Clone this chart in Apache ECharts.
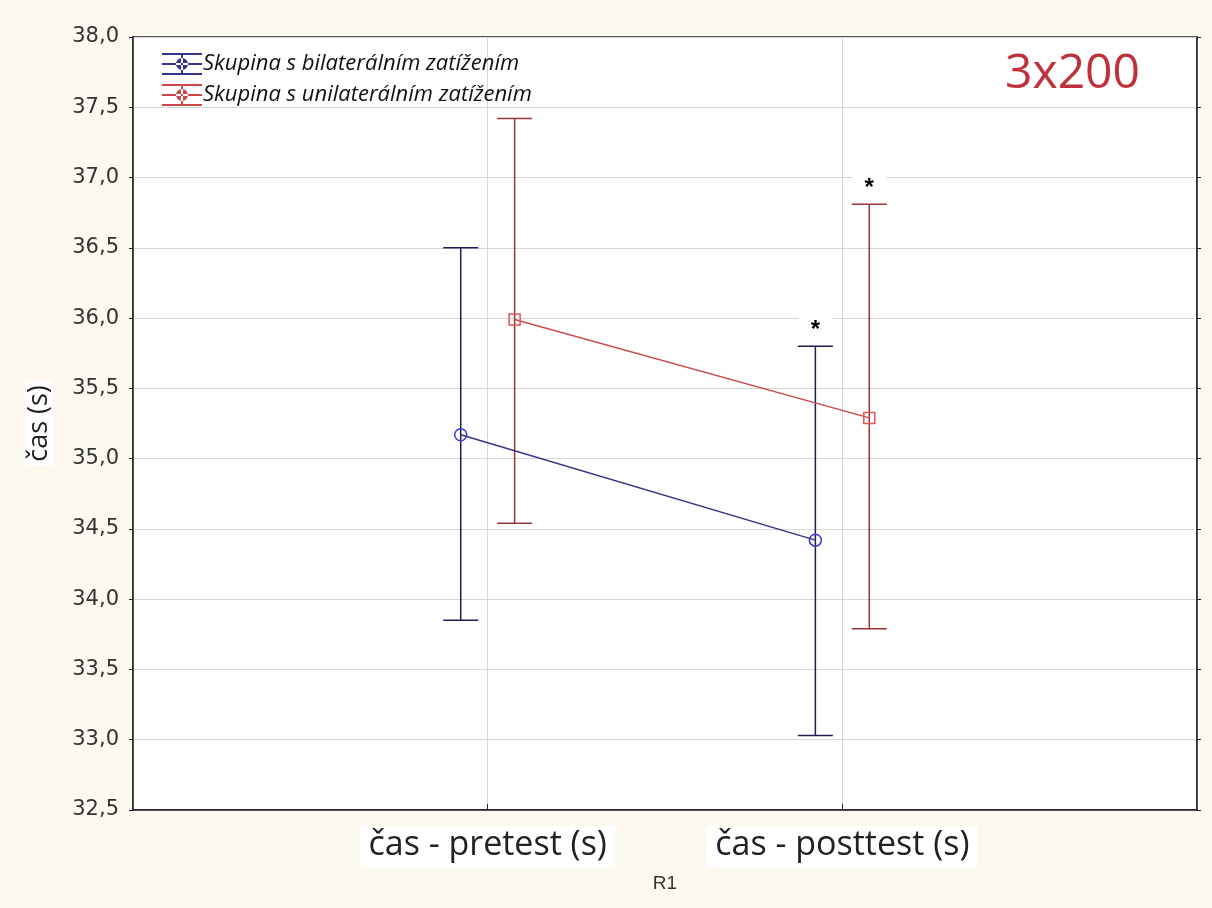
<!DOCTYPE html>
<html><head><meta charset="utf-8">
<script src="https://cdn.jsdelivr.net/npm/echarts@6/dist/echarts.min.js"></script>
<style>html,body{margin:0;padding:0;background:#fcf9f0;}#c{width:1212px;height:908px;}</style>
</head><body><div id="c"></div>
<script>
const categories = ['čas - pretest (s)', 'čas - posttest (s)'];
const seriesNames = ['Skupina s bilaterálním zatížením', 'Skupina s unilaterálním zatížením'];
const bilateralMean = [35.17, 34.42];
const bilateralLow = [33.85, 33.03];
const bilateralHigh = [36.50, 35.80];
const unilateralMean = [35.99, 35.29];
const unilateralLow = [34.54, 33.79];
const unilateralHigh = [37.42, 36.81];
const significance = ['', '*'];
const yTicks = [32.5, 38.0, 0.5]; // min, max, step
const titleText = '3x200';

const offsets = [-0.076, 0.076];
const lineColors = ['#34348c', '#c94a4a'];
const barColors = ['#1e1e55', '#983636'];
const markerColors = ['#3a3ad0', '#e05555'];

function pts(means, k) { return means.map((m, i) => [i + 1 + offsets[k], m]); }
function bars(lows, highs, k) { return lows.map((l, i) => [i + 1 + offsets[k], l, highs[i], significance[i]]); }

function errRender(k) {
  return function (params, api) {
    const x = api.value(0), lo = api.value(1), hi = api.value(2);
    const p1 = api.coord([x, lo]), p2 = api.coord([x, hi]);
    const hw = 17.5;
    const st = { stroke: barColors[k], lineWidth: 1.5 };
    const star = api.value(3);
    const ch = [
      { type: 'line', shape: { x1: p1[0], y1: p1[1], x2: p2[0], y2: p2[1] }, style: st },
      { type: 'line', shape: { x1: p1[0] - hw, y1: p1[1], x2: p1[0] + hw, y2: p1[1] }, style: st },
      { type: 'line', shape: { x1: p2[0] - hw, y1: p2[1], x2: p2[0] + hw, y2: p2[1] }, style: st }
    ];
    if (star) {
      ch.push({ type: 'rect', shape: { x: p2[0] - 17, y: p2[1] - 31, width: 34, height: 26 }, style: { fill: '#fff' } });
      ch.push({ type: 'text', x: p2[0], y: p2[1] - 4, style: { text: star, fill: '#000', font: 'bold 24px "Liberation Sans"', textAlign: 'center', textVerticalAlign: 'bottom' } });
    }
    return { type: 'group', children: ch };
  };
}

const legendIcon = 'path://M0,0h40v2h-40z M0,10h40v2h-40z M0,20h40v2h-40z M19,0h2v22h-2z M20,5a6,6 0 1,0 0.01,0z';

const chart = echarts.init(document.getElementById('c'));
chart.setOption({
  backgroundColor: '#fcf9f0',
  animation: false,
  grid: { left: 133, right: 15, top: 37, bottom: 98, show: true, backgroundColor: '#ffffff', borderColor: '#222', borderWidth: 1.5 },
  legend: {
    orient: 'vertical', left: 157, top: 48, itemWidth: 40, itemHeight: 22, itemGap: 9,
    data: [{ name: seriesNames[0], icon: legendIcon }, { name: seriesNames[1], icon: legendIcon }],
    textStyle: { fontFamily: 'Open Sans', fontStyle: 'italic', fontSize: 22, color: '#111', padding: [0, 0, 0, -4] }
  },
  graphic: [{ type: 'text', right: 72, top: 50, style: { text: titleText, fill: '#c0303a', font: '48px "Open Sans"' } }],
  xAxis: {
    type: 'value', min: 0, max: 3, interval: 1,
    axisLine: { show: true, lineStyle: { color: '#222', width: 1.5 } },
    axisTick: { show: true, inside: true, length: 6, lineStyle: { color: '#222' } },
    splitLine: { show: true, lineStyle: { color: '#d6d6d6' } },
    axisLabel: {
      formatter: v => categories[v - 1] || '', fontFamily: 'Open Sans', fontSize: 34, color: '#222',
      margin: 16, backgroundColor: '#fff', padding: [2, 8, 6, 8], showMinLabel: false, showMaxLabel: false
    },
    name: 'R1', nameLocation: 'middle', nameGap: 64, nameTextStyle: { fontFamily: 'Liberation Sans', fontSize: 19, color: '#333' }
  },
  yAxis: [{
    type: 'value', min: yTicks[0], max: yTicks[1], interval: yTicks[2],
    axisLine: { show: true, lineStyle: { color: '#222', width: 1.5 } },
    axisTick: { show: true, length: 4, lineStyle: { color: '#222' } },
    splitLine: { show: true, lineStyle: { color: '#d6d6d6' } },
    axisLabel: { formatter: v => v.toFixed(1).replace('.', ','), fontFamily: 'DejaVu Sans', fontSize: 21, color: '#333', margin: 14 },
    name: 'čas (s)', nameLocation: 'middle', nameGap: 80, nameRotate: 90,
    nameTextStyle: { fontFamily: 'Open Sans', fontSize: 27, color: '#222', backgroundColor: '#fff', padding: [0, 4] }
  }, {
    type: 'value', position: 'right', min: yTicks[0], max: yTicks[1], interval: yTicks[2],
    axisLine: { show: true, lineStyle: { color: '#222', width: 1.5 } },
    axisTick: { show: true, length: 4, lineStyle: { color: '#222' } },
    splitLine: { show: false }, axisLabel: { show: false }
  }],
  series: [
    { type: 'custom', name: seriesNames[0], renderItem: errRender(0), data: bars(bilateralLow, bilateralHigh, 0), z: 2, color: lineColors[0], encode: { x: 0, y: [1, 2] } },
    { type: 'custom', name: seriesNames[1], renderItem: errRender(1), data: bars(unilateralLow, unilateralHigh, 1), z: 2, color: lineColors[1], encode: { x: 0, y: [1, 2] } },
    { type: 'line', name: seriesNames[0], data: pts(bilateralMean, 0), symbol: 'circle', symbolSize: 12, showAllSymbol: true,
      lineStyle: { color: lineColors[0], width: 1.5 }, itemStyle: { color: 'rgba(255,255,255,0)', borderColor: markerColors[0], borderWidth: 1.5 }, color: lineColors[0], z: 3 },
    { type: 'line', name: seriesNames[1], data: pts(unilateralMean, 1), symbol: 'rect', symbolSize: 11, showAllSymbol: true,
      lineStyle: { color: lineColors[1], width: 1.5 }, itemStyle: { color: 'rgba(255,255,255,0)', borderColor: markerColors[1], borderWidth: 1.5 }, color: lineColors[1], z: 3 }
  ]
});
</script></body></html>
